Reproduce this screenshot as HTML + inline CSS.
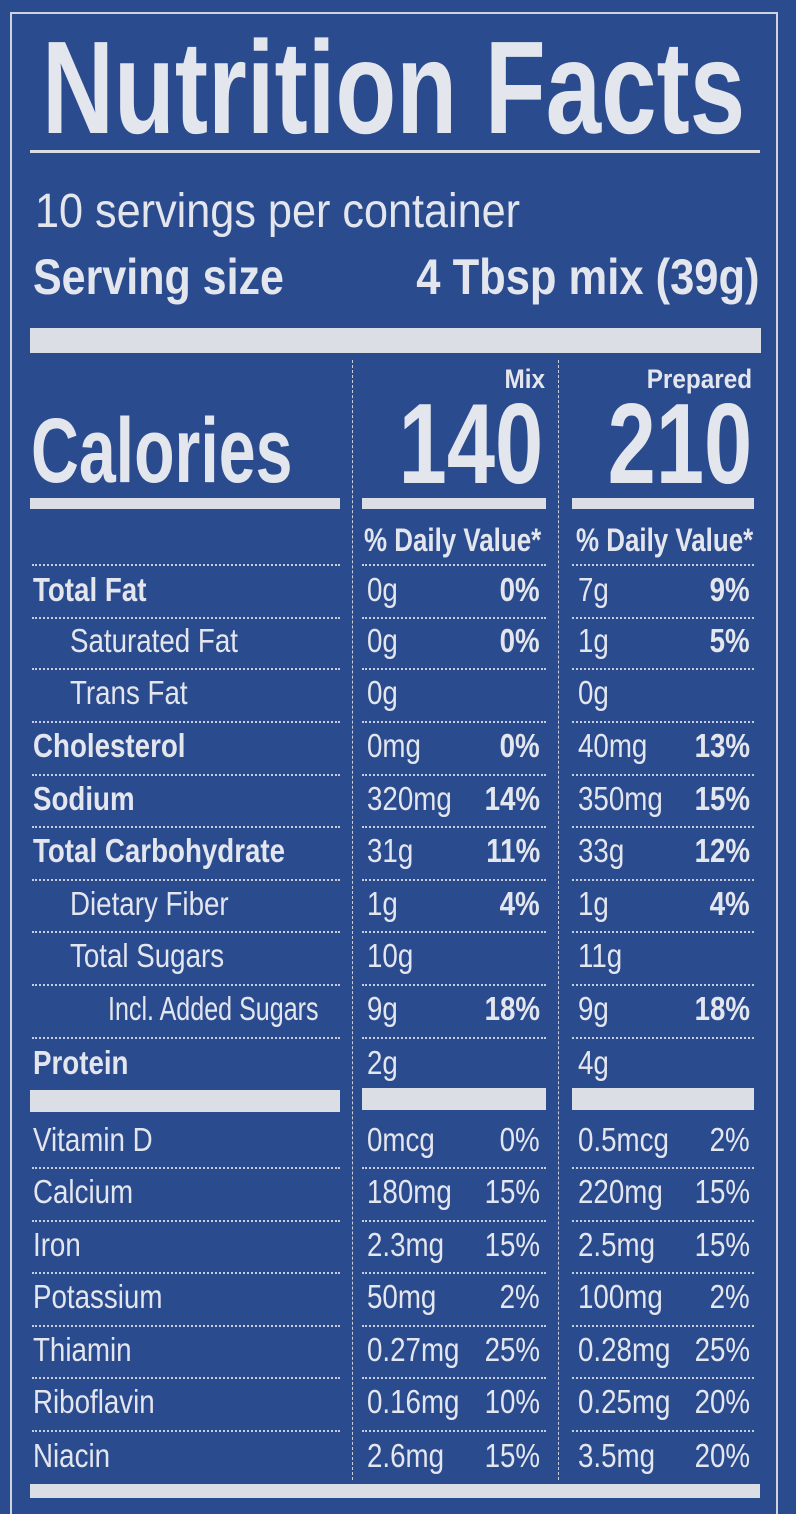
<!DOCTYPE html>
<html><head><meta charset="utf-8"><style>
html,body{margin:0;padding:0}
body{width:796px;height:1500px;background:#2b4b8f;position:relative;overflow:hidden;font-family:"Liberation Sans",Arial,sans-serif;color:#e4e6ee}
.t{position:absolute;white-space:nowrap;line-height:1}
.l{transform-origin:left center}
.r{transform-origin:right center}
.b{font-weight:bold}
.bar{position:absolute;background:#dcdee6}
.sep{position:absolute;height:0;border-top:2px dotted #c9cddb}
.v{position:absolute;width:0;border-left:1px dashed #c9cddb;top:360px;height:1120px}
</style></head><body>
<div style="position:absolute;left:10px;top:12px;width:764px;height:1500px;border:2px solid #cfd3de;border-bottom:none"></div>
<div class="t l b" style="left:42px;top:22px;font-size:132px;transform:scaleX(0.755)">Nutrition Facts</div>
<div class="bar" style="left:30px;top:150px;width:730px;height:3px"></div>
<div class="t l" style="left:35px;top:188px;font-size:48px;transform:scaleX(0.9)">10 servings per container</div>
<div class="t l b" style="left:33px;top:252px;font-size:50px;transform:scaleX(0.86)">Serving size</div>
<div class="t r b" style="right:36px;top:252px;font-size:50px;transform:scaleX(0.87)">4 Tbsp mix (39g)</div>
<div class="bar" style="left:30px;top:328px;width:731px;height:25px"></div>
<div class="v" style="left:352px"></div>
<div class="v" style="left:558px"></div>
<div class="t r b" style="right:251px;top:366px;font-size:27px;transform:scaleX(0.9)">Mix</div>
<div class="t r b" style="right:44px;top:366px;font-size:27px;transform:scaleX(0.9)">Prepared</div>
<div class="t l b" style="left:31px;top:405px;font-size:92px;transform:scaleX(0.72)">Calories</div>
<div class="t r b" style="right:253px;top:388px;font-size:114px;transform:scaleX(0.76)">140</div>
<div class="t r b" style="right:44px;top:388px;font-size:114px;transform:scaleX(0.76)">210</div>
<div class="bar" style="left:30px;top:498px;width:310px;height:11px"></div>
<div class="bar" style="left:362px;top:498px;width:184px;height:11px"></div>
<div class="bar" style="left:572px;top:498px;width:182px;height:11px"></div>
<div class="t l b" style="left:364px;top:524px;font-size:32px;transform:scaleX(0.81)">% Daily Value*</div>
<div class="t l b" style="left:576px;top:524px;font-size:32px;transform:scaleX(0.81)">% Daily Value*</div>
<div id="rows"></div>
<div class="bar" style="left:30px;top:1090px;width:310px;height:22px"></div>
<div class="bar" style="left:362px;top:1088px;width:184px;height:22px"></div>
<div class="bar" style="left:572px;top:1088px;width:182px;height:22px"></div>
<div class="bar" style="left:30px;top:1484px;width:730px;height:14px"></div>
<script>
var rows=[
[590,"Total Fat",1,33,"0g","0%","7g","9%",1],
[641,"Saturated Fat",0,70,"0g","0%","1g","5%",1],
[693,"Trans Fat",0,70,"0g","","0g","",1],
[746,"Cholesterol",1,33,"0mg","0%","40mg","13%",1],
[799,"Sodium",1,33,"320mg","14%","350mg","15%",1],
[851,"Total Carbohydrate",1,33,"31g","11%","33g","12%",1],
[904,"Dietary Fiber",0,70,"1g","4%","1g","4%",1],
[956,"Total Sugars",0,70,"10g","","11g","",1],
[1009,"Incl. Added Sugars",0,108,"9g","18%","9g","18%",1],
[1063,"Protein",1,33,"2g","","4g","",0],
[1140,"Vitamin D",0,33,"0mcg","0%","0.5mcg","2%",2],
[1192,"Calcium",0,33,"180mg","15%","220mg","15%",2],
[1245,"Iron",0,33,"2.3mg","15%","2.5mg","15%",2],
[1297,"Potassium",0,33,"50mg","2%","100mg","2%",2],
[1350,"Thiamin",0,33,"0.27mg","25%","0.28mg","25%",2],
[1402,"Riboflavin",0,33,"0.16mg","10%","0.25mg","20%",2],
[1456,"Niacin",0,33,"2.6mg","15%","3.5mg","20%",2]];
var h="";
function sep(y){h+='<div class="sep" style="left:32px;width:308px;top:'+y+'px"></div><div class="sep" style="left:362px;width:184px;top:'+y+'px"></div><div class="sep" style="left:572px;width:182px;top:'+y+'px"></div>';}
sep(564);
rows.forEach(function(r,i){
 var top=r[0]-17, fs=33, sc=0.84;
 var lsc=(i==8)?0.76:sc;
 var pb=r[8]==1?' b':'';
 h+='<div class="t l'+(r[2]?' b':'')+'" style="left:'+r[3]+'px;top:'+top+'px;font-size:'+fs+'px;transform:scaleX('+lsc+')">'+r[1]+'</div>';
 h+='<div class="t l" style="left:367px;top:'+top+'px;font-size:'+fs+'px;transform:scaleX('+sc+')">'+r[4]+'</div>';
 h+='<div class="t l" style="left:578px;top:'+top+'px;font-size:'+fs+'px;transform:scaleX('+sc+')">'+r[6]+'</div>';
 if(r[5])h+='<div class="t r'+pb+'" style="right:256px;top:'+top+'px;font-size:'+fs+'px;transform:scaleX('+sc+')">'+r[5]+'</div>';
 if(r[7])h+='<div class="t r'+pb+'" style="right:46px;top:'+top+'px;font-size:'+fs+'px;transform:scaleX('+sc+')">'+r[7]+'</div>';
 if(i<rows.length-1 && i!=9 && i!=8){var y=Math.round((r[0]+rows[i+1][0])/2)+1;sep(y);}
 if(i==8)sep(1037);
});
document.getElementById("rows").innerHTML=h;
</script>
</body></html>
